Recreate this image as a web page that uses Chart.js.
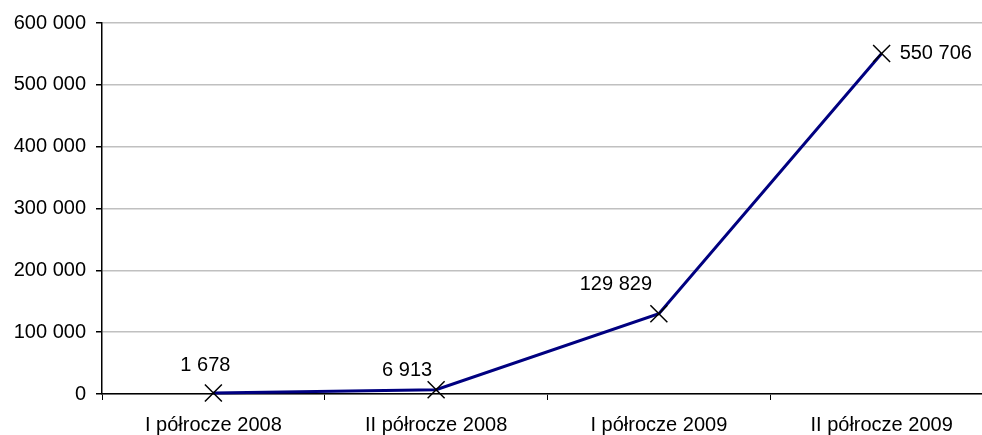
<!DOCTYPE html>
<html>
<head>
<meta charset="utf-8">
<script src="https://cdn.jsdelivr.net/npm/chart.js@4"></script>
<style>
html{margin:0;padding:0;background:#fff;overflow:hidden;}
body{margin:0;padding:0;background:#fff;width:993px;height:435px;}
#wrap{width:993px;height:435px;position:relative;}
canvas{display:block;}
</style>
</head>
<body>
<div id="wrap"><canvas id="c"></canvas></div>
<script>
const categories = ["I półrocze 2008", "II półrocze 2008", "I półrocze 2009", "II półrocze 2009"];
const values = [1678, 6913, 129829, 550706];
const yTicks = [0, 100000, 200000, 300000, 400000, 500000, 600000];

const FONT = "'Liberation Sans', Arial, sans-serif";
function fmt(v){ return String(v).replace(/\B(?=(\d{3})+(?!\d))/g, " "); }

// label placement relative to each point (style only)
const labelPlace = [
  {dx:-8, dy:-27, align:'center'},
  {dx:-29, dy:-19, align:'center'},
  {dx:-43, dy:-29, align:'center'},
  {dx:18, dy:0, align:'left'}
];

const labelPlugin = {
  id:'vlabels',
  afterDatasetsDraw(chart){
    const ctx = chart.ctx;
    const meta = chart.getDatasetMeta(0);
    ctx.save();
    ctx.font = "20px " + FONT;
    ctx.fillStyle = "#000";
    ctx.textBaseline = 'middle';
    meta.data.forEach((pt, i) => {
      const p = labelPlace[i];
      ctx.textAlign = p.align;
      ctx.fillText(fmt(values[i]), pt.x + p.dx, pt.y + p.dy);
    });
    ctx.restore();
  }
};

new Chart(document.getElementById('c'), {
  type:'line',
  data:{
    labels: categories,
    datasets:[{
      data: values,
      borderColor:'#000080',
      borderWidth:3,
      tension:0,
      pointStyle:'crossRot',
      pointRadius:12,
      pointHoverRadius:12,
      pointBorderColor:'#000',
      pointBackgroundColor:'#000',
      pointBorderWidth:1.5,
      clip:false
    }]
  },
  options:{
    responsive:true,
    maintainAspectRatio:false,
    animation:false,
    devicePixelRatio:1,
    events:[],
    layout:{autoPadding:false, padding:{top:23,left:0,right:0,bottom:0}},
    plugins:{legend:{display:false},tooltip:{enabled:false}},
    scales:{
      x:{
        type:'category',
        offset:true,
        grid:{display:true, drawOnChartArea:false, drawTicks:true, tickLength:6, color:'#000', offset:true, lineWidth:1},
        border:{display:true, color:'#000', width:1.5},
        ticks:{font:{family:FONT,size:20}, color:'#000', padding:13, maxRotation:0, autoSkip:false},
        afterFit(s){ s.height = 41; s.paddingLeft = 0; s.paddingRight = 0; }
      },
      y:{
        min:0, max:600000,
        afterBuildTicks(s){ s.ticks = yTicks.map(v => ({value:v})); },
        grid:{color:'#c0c0c0', lineWidth:1.5, tickLength:6, tickColor:'#000', drawTicks:true},
        border:{display:true, color:'#000', width:1.5},
        ticks:{font:{family:FONT,size:20}, color:'#000', padding:10, callback:(v)=>fmt(v)},
        afterFit(s){ s.width = 102; s.paddingTop = 0; s.paddingBottom = 0; }
      }
    }
  },
  plugins:[labelPlugin]
});
</script>
</body>
</html>
